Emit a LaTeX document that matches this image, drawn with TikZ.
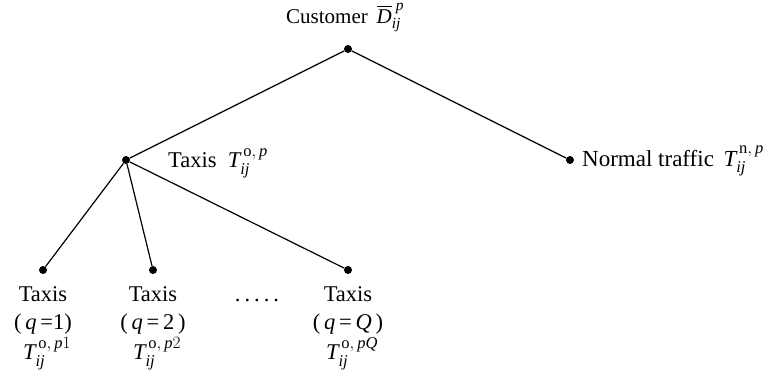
\documentclass[tikz,border=0pt]{standalone}
\usepackage{amsmath}
\usepackage{fontspec}
\setmainfont{Liberation Serif}
\DeclareMathSizes{21}{21}{15.5}{11.5}
\DeclareMathSizes{22.5}{22.5}{16.5}{12}
\DeclareMathSizes{23}{23}{16.5}{12}
\begin{document}
\begin{tikzpicture}[x=1pt,y=-1pt,
  dotnode/.style={circle,fill=black,inner sep=0pt,minimum size=8pt},
  lbl/.style={inner sep=0pt,font=\fontsize{22.5}{27}\selectfont},
  edge/.style={line width=1.2pt}]
\useasboundingbox (0,0) rectangle (765,381);
\newcommand{\vT}{\textit{T}}
\newcommand{\sep}{,\,}
\node[dotnode] (root) at (348,49) {};
\node[dotnode] (taxi) at (126,160) {};
\node[dotnode] (norm) at (570,160) {};
\node[dotnode] (q1) at (43,270) {};
\node[dotnode] (q2) at (153,270) {};
\node[dotnode] (qQ) at (348,270) {};
\draw[edge] (root) -- (taxi);
\draw[edge] (root) -- (norm);
\draw[edge] (taxi) -- (q1);
\draw[edge] (taxi) -- (q2);
\draw[edge] (taxi) -- (qQ);
\node[lbl,anchor=base west,font=\fontsize{21}{25}\selectfont] (lroot) at (286,23) {Customer\ \,$\overline{\textit{D}}^{\hspace{4pt}\textit{p}}_{\textit{ij}}$};
\node[lbl,anchor=base west] (ltaxi) at (168,167) {Taxis\ \ $\vT^{\,\text{o}\sep\textit{p}}_{\textit{ij}}$};
\node[lbl,anchor=base west,font=\fontsize{23}{27}\selectfont] (lnorm) at (582,166) {Normal traffic \,$\vT^{\,\text{n}\sep\textit{p}}_{\textit{ij}}$};
\foreach \n/\x/\q/\s in {a/43/{\,\textit{q}\,=1}/1, b/153/{\,\textit{q}\,=\,2\,}/2, c/348/{\,\textit{q}\,=\,\textit{Q}\,}/\textit{Q}}{
  \node[lbl,anchor=base] (t\n) at (\x,301) {Taxis};
  \node[lbl,anchor=base] (p\n) at (\x,329) {(\q)};
  \node[lbl,anchor=base] (s\n) at (\x+4,359) {$\vT^{\,\text{o}\sep\textit{p}\s}_{\textit{ij}}$};
}
\node[lbl,anchor=base] (dots) at (257,301) {.\hspace{4pt}.\hspace{4pt}.\hspace{4pt}.\hspace{4pt}.};
\end{tikzpicture}
\end{document}
